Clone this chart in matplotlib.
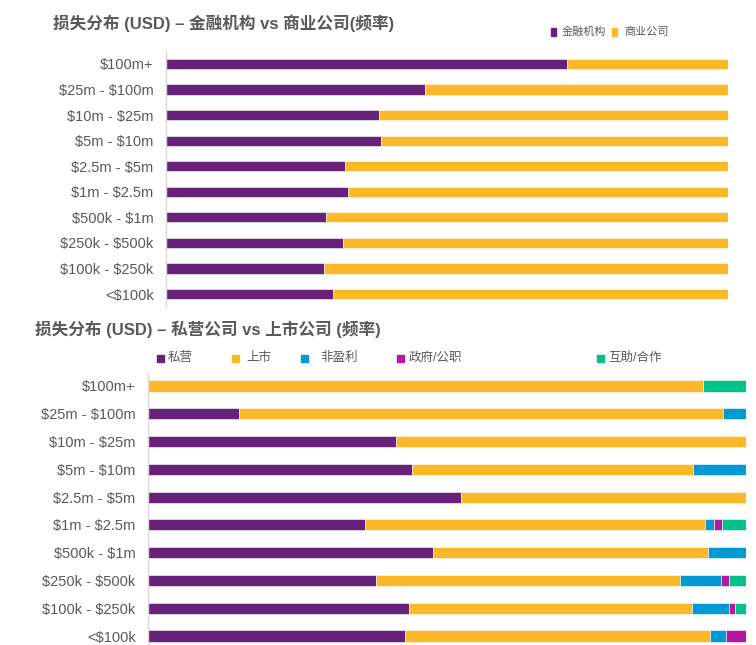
import matplotlib
matplotlib.use('Agg')
import matplotlib.pyplot as plt
from matplotlib.patches import Rectangle
import numpy as np

plt.rcParams['font.family'] = ['Liberation Sans', 'Noto Sans CJK SC', 'DejaVu Sans']
plt.rcParams['text.parse_math'] = False

categories = ['$100m+', '$25m - $100m', '$10m - $25m', '$5m - $10m', '$2.5m - $5m',
              '$1m - $2.5m', '$500k - $1m', '$250k - $500k', '$100k - $250k', '<$100k']

# top chart: share of financial institutions vs commercial companies
fin = [0.714, 0.461, 0.379, 0.383, 0.318, 0.324, 0.285, 0.315, 0.281, 0.297]
com = [1 - v for v in fin]

# bottom chart: private / listed / non-profit / government / mutual
private = [0.000, 0.152, 0.414, 0.441, 0.523, 0.363, 0.476, 0.382, 0.436, 0.430]
listed = [0.928, 0.809, 0.586, 0.470, 0.477, 0.568, 0.460, 0.507, 0.473, 0.510]
nonprofit = [0.000, 0.039, 0.000, 0.089, 0.000, 0.015, 0.064, 0.069, 0.063, 0.026]
govt = [0.000, 0.000, 0.000, 0.000, 0.000, 0.014, 0.000, 0.014, 0.010, 0.034]
mutual = [0.072, 0.000, 0.000, 0.000, 0.000, 0.040, 0.000, 0.028, 0.018, 0.000]

purple = '#68217A'
orange = '#FDB827'
blue = '#0099D3'
magenta = '#B5179E'
green = '#00C28A'
grey = '#595959'

W, H = 756, 645
fig = plt.figure(figsize=(W / 100, H / 100), dpi=100)

def fx(px):
    return px / W

def fy(py):
    return 1 - py / H

y = np.arange(len(categories))

def style_axis(ax):
    ax.set_xlim(0, 1)
    ax.set_ylim(len(categories) - 0.5, -0.5)
    ax.set_yticks(y)
    ax.set_yticklabels(categories, fontsize=10.5, color=grey)
    ax.tick_params(axis='y', length=0, pad=9)
    ax.set_xticks([])
    for s in ['top', 'right', 'bottom']:
        ax.spines[s].set_visible(False)
    ax.spines['left'].set_color('#D9D9D9')
    ax.spines['left'].set_linewidth(1)

# ---- top chart
ax1 = fig.add_axes([fx(166), fy(306.8), fx(728 - 166), 255.6 / H])
ax1.barh(y, fin, height=0.4, color=purple, edgecolor='white', linewidth=0.4)
ax1.barh(y, com, left=fin, height=0.4, color=orange, edgecolor='white', linewidth=0.4)
style_axis(ax1)

# ---- bottom chart
ax2 = fig.add_axes([fx(148), fy(649.9), fx(746 - 148), 277.8 / H])
left = np.zeros(len(categories))
for vals, c in [(private, purple), (listed, orange), (nonprofit, blue),
                (govt, magenta), (mutual, green)]:
    ax2.barh(y, vals, left=left, height=0.4, color=c, edgecolor='white', linewidth=0.4)
    left = left + np.array(vals)
style_axis(ax2)

# ---- titles
fig.text(fx(53), fy(23), '损失分布 (USD) – 金融机构 vs 商业公司(频率)',
         fontsize=12, fontweight='bold', color=grey, va='center')
fig.text(fx(35), fy(329), '损失分布 (USD) – 私营公司 vs 上市公司 (频率)',
         fontsize=12, fontweight='bold', color=grey, va='center')

# ---- legends
def legend_item(xpx, ypx, label, color, size, w, h, gap):
    fig.patches.append(Rectangle((fx(xpx), fy(ypx + h / 2)), fx(w), h / H,
                                 transform=fig.transFigure, color=color))
    fig.text(fx(xpx + w + gap), fy(ypx), label, fontsize=size, color=grey, va='center')

legend_item(551, 32, '金融机构', purple, 8, 5, 8, 6)
legend_item(612, 32, '商业公司', orange, 8, 5, 8, 7)

legend_item(157, 358, '私营', purple, 9, 7, 7, 4)
legend_item(232, 358, '上市', orange, 9, 7, 7, 7)
legend_item(301, 358, '非盈利', blue, 9, 7, 7, 12)
legend_item(397, 358, '政府/公职', magenta, 9, 7, 7, 5)
legend_item(597, 358, '互助/合作', green, 9, 7, 7, 4)

fig.savefig('out.png', dpi=100)
